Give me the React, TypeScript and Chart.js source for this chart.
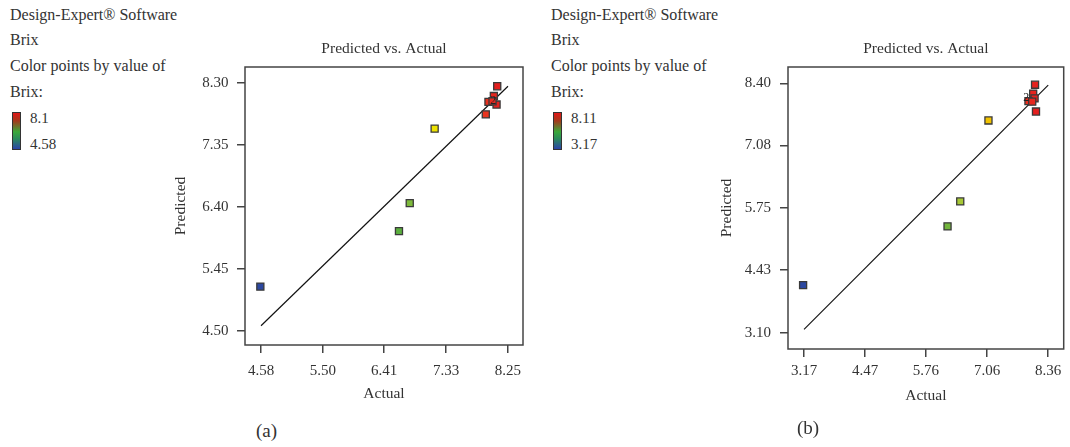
import React, { useEffect, useRef } from "react";
import { Chart, registerables } from "chart.js";

Chart.register(...registerables);

// ---------- data ----------
const actualA = [4.57, 6.63, 6.79, 7.16, 8.09, 8.04, 7.96, 8.08, 7.92, 8.02];
const predictedA = [5.18, 6.03, 6.46, 7.6, 8.25, 8.1, 8.01, 7.97, 7.82, 8.02];
const xTicksA = [4.58, 5.5, 6.41, 7.33, 8.25];
const yTicksA = [4.5, 5.45, 6.4, 7.35, 8.3];
const legendLabelsA = ["8.1", "4.58"];
const colorRangeA = [4.58, 8.1];

const actualB = [3.15, 6.22, 6.49, 7.09, 8.08, 8.04, 8.07, 7.94, 8.02, 8.1];
const predictedB = [4.11, 5.36, 5.89, 7.61, 8.37, 8.18, 8.08, 8.02, 8.01, 7.8];
const xTicksB = [3.17, 4.47, 5.76, 7.06, 8.36];
const yTicksB = [3.1, 4.43, 5.75, 7.08, 8.4];
const legendLabelsB = ["8.11", "3.17"];
const colorRangeB = [3.17, 8.11];

const legendLines = ["Design-Expert® Software", "Brix", "Color points by value of", "Brix:"];
const chartTitle = "Predicted vs. Actual";
const xTitle = "Actual";
const yTitle = "Predicted";

const FONT = "'Liberation Serif', 'Times New Roman', serif";
const TEXT = "#333";

// ---------- colour map (blue -> green -> yellow -> red) ----------
const stops: [number, number[]][] = [
  [0, [44, 72, 160]],
  [0.45, [42, 157, 58]],
  [0.6, [98, 177, 62]],
  [0.67, [165, 199, 55]],
  [0.73, [237, 228, 0]],
  [0.8, [243, 192, 0]],
  [0.9, [239, 75, 31]],
  [1, [228, 30, 30]],
];
function colorFor(v: number, range: number[]) {
  let t = (v - range[0]) / (range[1] - range[0]);
  t = Math.max(0, Math.min(1, t));
  for (let i = 1; i < stops.length; i++) {
    if (t <= stops[i][0]) {
      const [t0, c0] = stops[i - 1];
      const [t1, c1] = stops[i];
      const f = (t - t0) / (t1 - t0);
      const c = c0.map((a, k) => Math.round(a + (c1[k] - a) * f));
      return `rgb(${c[0]},${c[1]},${c[2]})`;
    }
  }
  return "rgb(228,30,30)";
}

const framePlugin = {
  id: "frame",
  beforeDatasetsDraw(chart: any) {
    const { ctx, chartArea } = chart;
    const { left, top, right, bottom } = chartArea;
    ctx.save();
    ctx.strokeStyle = "#444";
    ctx.lineWidth = 1.5;
    ctx.strokeRect(left, top, right - left, bottom - top);
    ctx.restore();
  },
};

const replicatePlugin = {
  id: "replicate",
  afterDatasetsDraw(chart: any, _args: any, opts: any) {
    if (!opts || opts.index == null) return;
    const meta = chart.getDatasetMeta(0);
    const el = meta.data[opts.index];
    if (!el) return;
    const { ctx } = chart;
    ctx.save();
    ctx.font = `12px ${FONT}`;
    ctx.fillStyle = "#222";
    ctx.textAlign = "center";
    ctx.textBaseline = "middle";
    ctx.fillText("2", el.x + opts.dx, el.y + opts.dy);
    ctx.restore();
  },
};

interface Geo {
  yWidth: number;
  xHeight: number;
  padRight: number;
  titleTop: number;
  titleBottom: number;
  yTitlePad: number;
  xTitlePad: number;
  xTickPad: number;
  yTickPad: number;
}

function buildConfig(
  actual: number[],
  predicted: number[],
  xTicks: number[],
  yTicks: number[],
  range: number[],
  xMin: number,
  xMax: number,
  yMin: number,
  yMax: number,
  g: Geo,
  rep: any
) {
  const tickFont = { family: FONT, size: 15 };
  const titleFont = { family: FONT, size: 15.5, weight: "normal" as const };
  const grid = {
    drawOnChartArea: false,
    drawTicks: true,
    tickLength: 8,
    color: "#444",
    lineWidth: 1.5,
  };
  return {
    type: "scatter" as const,
    data: {
      datasets: [
        {
          data: actual.map((x, i) => ({ x, y: predicted[i] })),
          pointStyle: "rect",
          pointRadius: 5,
          pointBackgroundColor: actual.map((v) => colorFor(v, range)),
          pointBorderColor: "#3a3a3a",
          pointBorderWidth: 1.3,
        },
        {
          data: [
            { x: xTicks[0], y: xTicks[0] },
            { x: xTicks[xTicks.length - 1], y: xTicks[xTicks.length - 1] },
          ],
          showLine: true,
          borderColor: "#111",
          borderWidth: 1.2,
          pointRadius: 0,
        },
      ],
    },
    options: {
      responsive: false,
      animation: false as const,
      layout: { padding: { left: 0, top: 0, right: g.padRight, bottom: 0 } },
      plugins: {
        legend: { display: false },
        tooltip: { enabled: false },
        title: {
          display: true,
          text: chartTitle,
          font: titleFont,
          color: TEXT,
          fullSize: false,
          padding: { top: g.titleTop, bottom: g.titleBottom },
        },
        replicate: rep,
      },
      scales: {
        x: {
          type: "linear",
          min: xMin,
          max: xMax,
          afterBuildTicks: (s: any) => {
            s.ticks = xTicks.map((v) => ({ value: v }));
          },
          afterFit: (s: any) => {
            s.height = g.xHeight;
          },
          ticks: {
            callback: (v: number) => Number(v).toFixed(2),
            font: tickFont,
            color: TEXT,
            padding: g.xTickPad,
            autoSkip: false,
            maxRotation: 0,
          },
          grid,
          border: { display: false },
          title: { display: true, text: xTitle, font: titleFont, color: TEXT, padding: { top: 0, bottom: g.xTitlePad } },
        },
        y: {
          type: "linear",
          min: yMin,
          max: yMax,
          afterBuildTicks: (s: any) => {
            s.ticks = yTicks.map((v) => ({ value: v }));
          },
          afterFit: (s: any) => {
            s.width = g.yWidth;
          },
          ticks: {
            callback: (v: number) => Number(v).toFixed(2),
            font: tickFont,
            color: TEXT,
            padding: g.yTickPad,
            autoSkip: false,
          },
          grid,
          border: { display: false },
          title: { display: true, text: yTitle, font: titleFont, color: TEXT, padding: { top: g.yTitlePad, bottom: 0 } },
        },
      },
    },
    plugins: [framePlugin, replicatePlugin],
  };
}

function Legend({ left, labels }: { left: number; labels: string[] }) {
  const tops = [1.6, 27.4, 53, 78.6];
  return (
    <>
      {legendLines.map((t, i) => (
        <div
          key={i}
          style={{
            position: "absolute",
            left,
            top: tops[i],
            fontFamily: FONT,
            fontSize: 16,
            lineHeight: "26px",
            color: TEXT,
            whiteSpace: "nowrap",
          }}
        >
          {t}
        </div>
      ))}
      <div
        style={{
          position: "absolute",
          left: left + 2,
          top: 112,
          width: 7,
          height: 36,
          border: "1.5px solid #333",
          background:
            "linear-gradient(to bottom, #e01818 0%, #a33a1c 22%, #3aa83a 52%, #2a8a5c 72%, #2c44a8 100%)",
        }}
      />
      {labels.map((t, i) => (
        <div
          key={"l" + i}
          style={{
            position: "absolute",
            left: left + 20,
            top: i === 0 ? 108.6 : 135.2,
            fontFamily: FONT,
            fontSize: 15,
            lineHeight: "18px",
            color: TEXT,
            whiteSpace: "nowrap",
          }}
        >
          {t}
        </div>
      ))}
    </>
  );
}

export default function App() {
  const refA = useRef<HTMLCanvasElement>(null);
  const refB = useRef<HTMLCanvasElement>(null);

  useEffect(() => {
    const cfgA = buildConfig(
      actualA, predictedA, xTicksA, yTicksA, colorRangeA,
      4.342, 8.473, 4.285, 8.545,
      { yWidth: 85, xHeight: 75, padRight: 17, titleTop: 19.7, titleBottom: 8.7, yTitlePad: 11.2, xTitlePad: 16.7, xTickPad: 9, yTickPad: 8.5 },
      { index: 9, dx: 0.7, dy: 0 }
    );
    const cfgB = buildConfig(
      actualB, predictedB, xTicksB, yTicksB, colorRangeB,
      2.829, 8.689, 2.754, 8.746,
      { yWidth: 88, xHeight: 71, padRight: 2, titleTop: 19.7, titleBottom: 8.7, yTitlePad: 17.7, xTitlePad: 14.7, xTickPad: 5, yTickPad: 9 },
      { index: 7, dx: -2.3, dy: -3.8 }
    );
    const a = new Chart(refA.current as HTMLCanvasElement, cfgA as any);
    const b = new Chart(refB.current as HTMLCanvasElement, cfgB as any);
    return () => {
      a.destroy();
      b.destroy();
    };
  }, []);

  return (
    <div
      style={{
        position: "fixed",
        left: 0,
        top: 0,
        width: 1070,
        height: 447,
        background: "#fff",
        overflow: "hidden",
      }}
    >
      <Legend left={10} labels={legendLabelsA} />
      <Legend left={551} labels={legendLabelsB} />
      <canvas
        ref={refA}
        width={380}
        height={400}
        style={{ position: "absolute", left: 160, top: 20, width: 380, height: 400 }}
      />
      <canvas
        ref={refB}
        width={370}
        height={400}
        style={{ position: "absolute", left: 700, top: 20, width: 370, height: 400 }}
      />
      <div style={{ position: "absolute", left: 256, top: 420, fontFamily: FONT, fontSize: 19, lineHeight: "22px", color: TEXT }}>
        (a)
      </div>
      <div style={{ position: "absolute", left: 797, top: 417, fontFamily: FONT, fontSize: 19, lineHeight: "22px", color: TEXT }}>
        (b)
      </div>
    </div>
  );
}
